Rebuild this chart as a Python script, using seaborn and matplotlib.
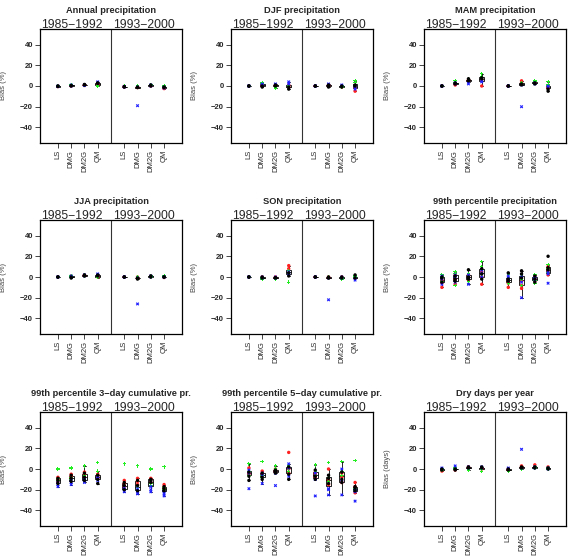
import numpy as np
import pandas as pd
import matplotlib
matplotlib.use('Agg')
import matplotlib.pyplot as plt
import seaborn as sns

# x positions: two periods, four methods each
positions = [1, 2, 3, 4, 6, 7, 8, 9]
method_labels = ['LS', 'DMG', 'DM2G', 'QM'] * 2
periods = ['1985\u22121992', '1993\u22122000']

# bias values per colour group, one list per (period, method)
ann_red = [[-0.5, 0], [0, 0.5], [1, 0.5], [1, 2], [-0.5, -1], [-1, -1.5], [0, 0.5], [-2, -2.5]]
ann_green = [[0, -0.5], [0.5, 1], [1, 1.5], [0.5, 0], [-0.5, 0], [-1, 0], [0.5, 1], [0, -1]]
ann_blue = [[-0.5, 0], [1, 0], [1, 0.5], [4, 3], [-0.5, -1], [-19, -1], [1, 0], [-1, -2]]
ann_black = [[0, -0.5], [0, 0.5], [1, 1.5], [2.5, 3], [-0.5, -1], [-1.5, -1], [0, 1], [-1.5, -1]]

djf_red = [[0, 0], [1, 0], [1, 0], [1, -1], [0, 0], [0, 1], [0, -1], [-5, -2]]
djf_green = [[0, 0.5], [3, 2], [-2, -1], [-1, 0], [0, 0], [1, 0], [-1, 0], [5, 3]]
djf_blue = [[0, 0], [1, 2], [2, 1], [4, 2], [0, 0], [2, 1], [1, 0], [-3, -1]]
djf_black = [[0, 0], [-1, 0], [0, 1], [-3, -1], [0, 0], [-1, 1], [-1, 0], [0, 1]]

mam_red = [[0, 0], [1, 2], [5, 6], [0, 6], [0, 0], [5, 3], [3, 4], [-2, -1]]
mam_green = [[0, 0], [5, 3], [7, 6], [12, 9], [0, 0], [2, 3], [5, 4], [4, 1]]
mam_blue = [[0, 0], [2, 3], [2, 4], [4, 5], [0, 0], [-20, 1], [2, 3], [-1, 0]]
mam_black = [[0, 0], [2, 3], [5, 7], [8, 7], [0, 0], [1, 2], [3, 2], [-5, -3]]

jja_red = [[0, 0], [0, 1], [1, 2], [1, 0], [0, 0], [-1, 0], [0, 1], [0, -0.5]]
jja_green = [[0, 0], [1, 0], [1, 2], [0, -0.5], [0, 0], [0, -1], [1, 0], [0, 1]]
jja_blue = [[0, 0], [1, 0], [2, 1], [3, 2], [0, 0], [-26, -1], [1, 0], [0, 0]]
jja_black = [[0, 0], [-1, 0], [2, 1], [1, 2], [0, 0], [-2, -1], [1, 0], [0, 0]]

son_red = [[0, 0], [0, -1], [0, -1], [11, 8], [0, 0], [0, -1], [0, -1], [-1, 0]]
son_green = [[0, 0], [-2, -1], [-2, -1], [-5, 6], [0, 0], [-1, 0], [-2, -1], [0, 1]]
son_blue = [[0, 0], [-1, 0], [-1, 0], [3, 5], [0, 0], [-22, -1], [-1, 0], [-3, -1]]
son_black = [[0, 0], [-1, 0], [-1, -0.5], [1, 4], [0, 0], [-1, 0], [-1, 0], [2, -1]]

p99_red = [[-10, -3, -6], [-7, -2, 2], [-3, 0, 2], [-7, 0, 5], [-10, -6, -3], [-11, -8, -4], [-4, -2, 1], [2, 6, 10]]
p99_green = [[2, -4, 0], [-8, 5, 3], [-4, 1, 3], [15, 10, 2], [-6, -1, 2], [-8, -2, 2], [-6, -3, 2], [4, 12, 8]]
p99_blue = [[-7, -2, 1], [-5, 0, 2], [-7, -1, 2], [0, 4, 7], [-3, -1, 1], [-20, -5, 0], [-3, -1, 0], [-6, 3, 5]]
p99_black = [[-1, -5, 0], [-2, -4, 1], [7, -2, 0], [3, 8, -2], [4, -2, -4], [6, -1, 3], [-2, 1, -5], [20, 7, 9]]

d3_red = [[-8, -10, -12], [-5, -7, -9], [-3, -5, -8], [-5, -7, -9], [-11, -14, -17], [-9, -12, -15], [-9, -10, -13], [-15, -17, -19]]
d3_green = [[0, -9, -11], [1, -8, -10], [3, -6, -9], [6, -2, -6], [5, -16, -19], [3, -18, -20], [0, -14, -16], [2, -18, -20]]
d3_blue = [[-17, -13, -15], [-15, -11, -13], [-13, -10, -11], [-11, -9, -8], [-22, -20, -18], [-24, -22, -19], [-22, -20, -17], [-26, -24, -22]]
d3_black = [[-14, -11, -9], [-12, -9, -6], [-11, -8, -4], [-14, -10, -6], [-13, -16, -20], [-11, -16, -21], [-11, -13, -10], [-17, -19, -21]]

d5_red = [[1, -3, -5], [-2, -5, -7], [0, -2, -3], [16, -4, 0], [-3, -5, -8], [0, -10, -15], [-4, -8, -13], [-13, -17, -23]]
d5_green = [[5, -6, -2], [7, -6, -8], [3, -1, 0], [2, -2, 3], [4, -6, -2], [6, -12, -8], [7, -6, -2], [8, -21, -19]]
d5_blue = [[-19, -4, -1], [-14, -4, -6], [-16, -3, -4], [5, -7, 1], [-26, -10, -4], [-25, -20, -19], [-25, -12, 0], [-31, -22, -20]]
d5_black = [[-11, -7, -3], [-10, -8, -4], [-4, -2, -1], [-10, -5, 2], [-10, -7, -1], [-9, -14, -6], [-13, -10, -3], [-17, -18, -21]]

dry_red = [[-2, -1], [0, -1], [1, 2], [1, 0], [-1, 0], [3, 2], [4, 2], [2, 1]]
dry_green = [[-1, 0], [0, 1], [0, -1], [-2, 0], [-2, -1], [0, 1], [1, 2], [0, 1]]
dry_blue = [[1, 0], [3, 0], [1, 2], [1, 2], [1, 0], [19, 1], [2, 1], [0, 1]]
dry_black = [[-1, 0], [-1, 0], [1, 2], [1, 2], [0, -1], [1, 2], [1, 2], [1, 0]]

panels = [
    ('Annual precipitation', 'Bias (%)', [ann_red, ann_green, ann_blue, ann_black]),
    ('DJF precipitation', 'Bias (%)', [djf_red, djf_green, djf_blue, djf_black]),
    ('MAM precipitation', 'Bias (%)', [mam_red, mam_green, mam_blue, mam_black]),
    ('JJA precipitation', 'Bias (%)', [jja_red, jja_green, jja_blue, jja_black]),
    ('SON precipitation', 'Bias (%)', [son_red, son_green, son_blue, son_black]),
    ('99th percentile precipitation', 'Bias (%)', [p99_red, p99_green, p99_blue, p99_black]),
    ('99th percentile 3\u2212day cumulative pr.', 'Bias (%)', [d3_red, d3_green, d3_blue, d3_black]),
    ('99th percentile 5\u2212day cumulative pr.', 'Bias (%)', [d5_red, d5_green, d5_blue, d5_black]),
    ('Dry days per year', 'Bias (days)', [dry_red, dry_green, dry_blue, dry_black]),
]

groups = ['red', 'green', 'blue', 'black']
palette = {'red': '#ff2020', 'green': '#22ee22', 'blue': '#2020ff', 'black': '#000000'}
markers = {'red': 'o', 'green': 'P', 'blue': 'X', 'black': 'o'}

sns.set_style('white')
plt.rcParams['font.family'] = ['Liberation Sans', 'DejaVu Sans']


def draw_panel(ax, title, ylabel, series):
    rows = []
    for g, vals in zip(groups, series):
        for p, lst in zip(positions, vals):
            for v in lst:
                rows.append({'pos': p, 'val': v, 'grp': g})
    df = pd.DataFrame(rows)

    sns.boxplot(data=df, x='pos', y='val', native_scale=True, width=0.35,
                color='white', linecolor='black', linewidth=0.6,
                showfliers=False, ax=ax)
    sns.scatterplot(data=df, x='pos', y='val', hue='grp', style='grp',
                    palette=palette, markers=markers, s=6, linewidth=0,
                    legend=False, ax=ax, zorder=3)

    ax.axvline(5, color='#333333', lw=0.8)
    ax.set_xlim(-0.35, 10.35)
    ax.set_ylim(-55, 55)
    ax.set_yticks([-40, -20, 0, 20, 40])
    ax.set_yticklabels(['\u221240', '\u221220', '0', '20', '40'], fontsize=5.5,
                       fontweight='bold')
    ax.set_xticks(positions)
    ax.set_xticklabels(method_labels, rotation=90, fontsize=5.5)
    ax.tick_params(axis='both', length=3.6, width=0.6, pad=1.5, direction='out',
                   bottom=True, left=True)
    ax.set_xlabel('')
    ax.set_ylabel(ylabel, fontsize=5.5, color='#444444')
    ax.yaxis.set_label_coords(-0.23, 0.5)
    for sp in ax.spines.values():
        sp.set_linewidth(0.9)
        sp.set_color('black')

    ax.annotate(title, xy=(0.5, 1), xycoords='axes fraction', xytext=(0, 11.5),
                textcoords='offset points', ha='center', va='baseline',
                fontsize=6.7, fontweight='bold')
    for xf, lab in zip([0.225, 0.73], periods):
        ax.annotate(lab, xy=(xf, 1), xycoords='axes fraction', xytext=(0, 1),
                    textcoords='offset points', ha='center', va='baseline',
                    fontsize=8.7)


fig = plt.figure(figsize=(5.75, 5.6), dpi=100)
col_left = [40 / 575, 231 / 575, 424 / 575]
row_bottom = [1 - 143 / 560, 1 - 334 / 560, 1 - 526 / 560]
w = 142 / 575
h = 114 / 560

for i, (title, ylabel, series) in enumerate(panels):
    r, c = divmod(i, 3)
    ax = fig.add_axes([col_left[c], row_bottom[r], w, h])
    draw_panel(ax, title, ylabel, series)

fig.savefig('out.png', dpi=100)
